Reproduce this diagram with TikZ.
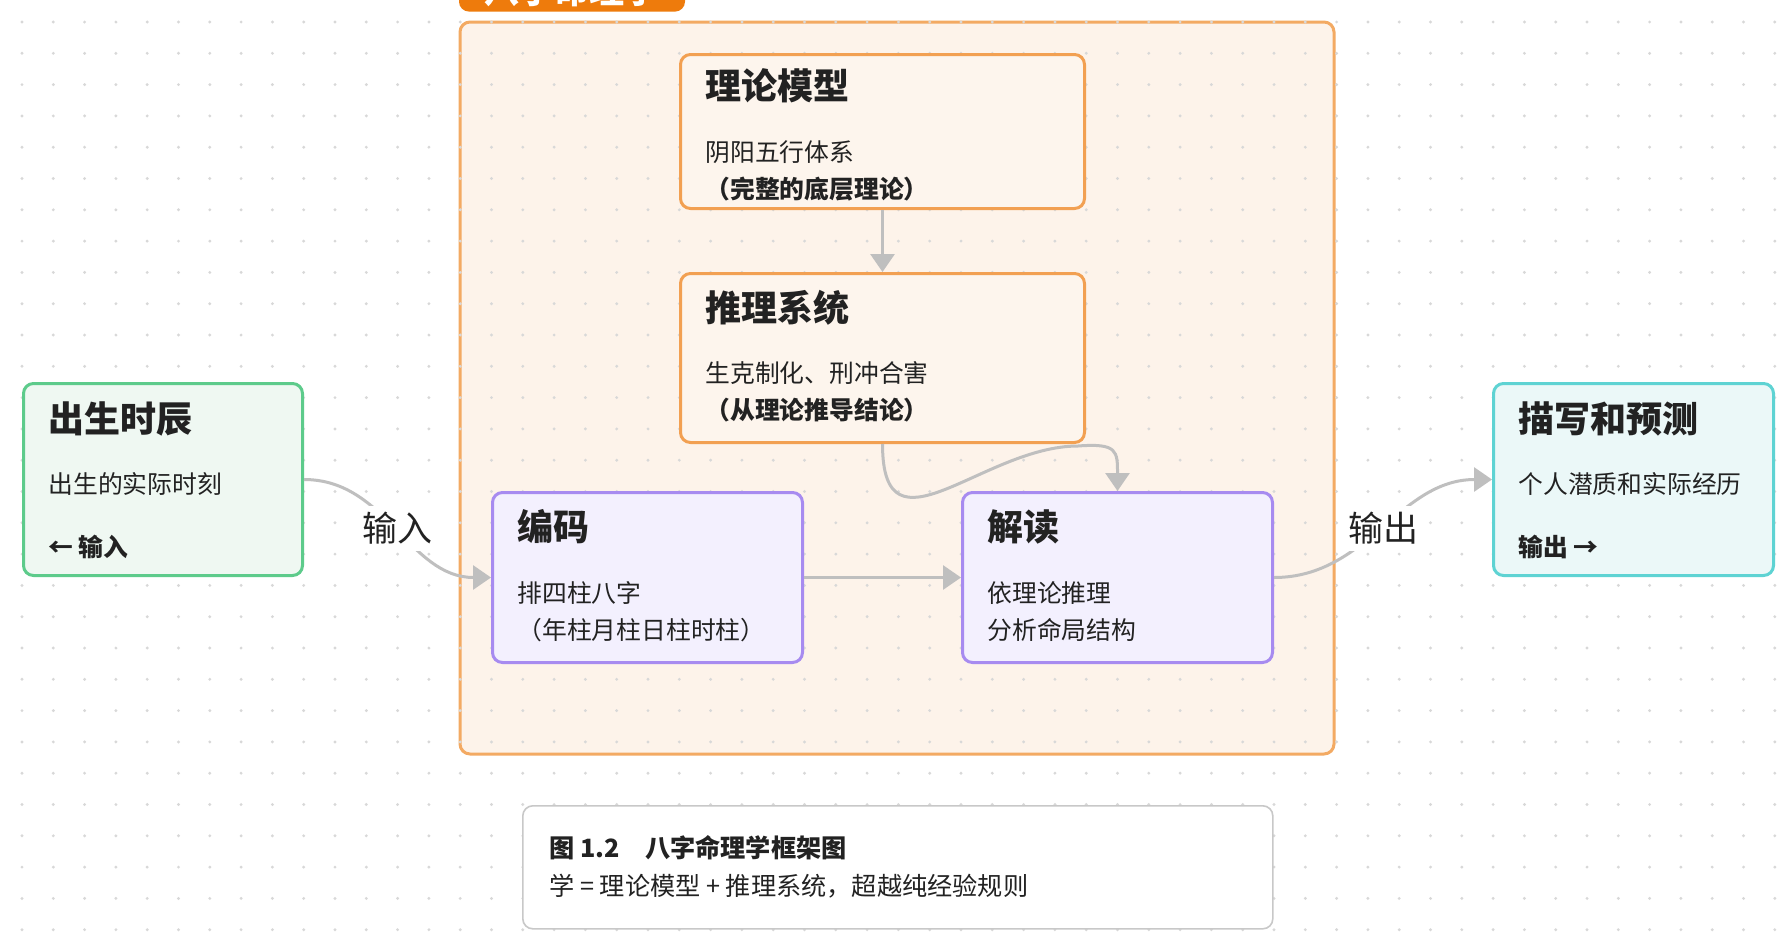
\documentclass[tikz,border=0pt]{standalone}
\usepackage{fontspec}
\setmainfont{Noto Sans CJK SC}
\usetikzlibrary{calc,arrows.meta}
\definecolor{ink}{HTML}{222222}
\definecolor{dotgray}{HTML}{D8D8D8}
\definecolor{linkgray}{HTML}{BFBFBF}
\definecolor{grnline}{HTML}{5DCB8B}
\definecolor{grnfill}{HTML}{EFF8F2}
\definecolor{tealline}{HTML}{5ED3D3}
\definecolor{tealfill}{HTML}{EBF8F8}
\definecolor{orgline}{HTML}{F2A052}
\definecolor{orgfill}{HTML}{FDF5ED}
\definecolor{orgbg}{HTML}{FDF3EA}
\definecolor{orgtag}{HTML}{EE7B0C}
\definecolor{purline}{HTML}{A78BF0}
\definecolor{purfill}{HTML}{F3F0FE}
\definecolor{capline}{HTML}{C8C8C8}
\tikzset{
  box/.style={draw, line width=1.5pt, rounded corners=5pt, anchor=north west, inner sep=0},
  greenbox/.style={box, draw=grnline, fill=grnfill, minimum width=139.5pt, minimum height=96pt},
  tealbox/.style={box, draw=tealline, fill=tealfill, minimum width=140pt, minimum height=96pt},
  orgbox/.style={box, draw=orgline, fill=orgfill, minimum width=202pt},
  purbox/.style={box, draw=purline, fill=purfill, minimum width=155pt, minimum height=85pt},
  ttl/.style={anchor=west, inner sep=0, text=ink, font=\fontsize{18}{20}\selectfont\bfseries},
  txt/.style={anchor=west, inner sep=0, text=ink, font=\fontsize{12.4}{14}\selectfont},
  txtb/.style={txt, font=\fontsize{12.4}{14}\selectfont\bfseries},
  link/.style={draw=linkgray, line width=1.5pt},
  flowlabel/.style={fill=white, inner sep=3pt, text=ink, font=\fontsize{17.5}{20}\selectfont},
}

\begin{document}
\begin{tikzpicture}[x=0.5pt, y=-0.5pt, >={Triangle[length=9pt,width=12pt]}]
\useasboundingbox (0,0) rectangle (1792,948);
\clip (0,0) rectangle (1792,948);
\fill[white] (0,0) rectangle (1792,948);

% frame of the framework
\draw[orgline!90!white, fill=orgbg, line width=1.5pt, rounded corners=5pt] (460,22) rectangle (1334,754);

% dot grid
\foreach \i in {0,...,56} {
  \foreach \j in {0,...,29} {
    \fill[dotgray] (22+31.3*\i, 22+31.3*\j) circle (0.8pt);
  }
}

\node[fill=orgtag, text=white, rounded corners=5pt, anchor=south, minimum width=113pt,
  minimum height=22pt, inner sep=0, font=\fontsize{17.5}{20}\selectfont\bfseries] (tag) at (572,12) {八字命理学};

% boxes
\node[greenbox] (birth) at (22,382) {};
\node[ttl] (birth-t) at ($(birth.north west)+(26,37)$) {出生时辰};
\node[txt] (birth-b) at ($(birth.north west)+(26,102)$) {出生的实际时刻};
\node[txtb] (birth-f) at ($(birth.north west)+(26,165)$) {← 输入};

\node[tealbox] (result) at (1492,382) {};
\node[ttl] (result-t) at ($(result.north west)+(26,37)$) {描写和预测};
\node[txt] (result-b) at ($(result.north west)+(26,102)$) {个人潜质和实际经历};
\node[txtb] (result-f) at ($(result.north west)+(26,165)$) {输出 →};

\node[orgbox, minimum height=77pt] (model) at (679,53) {};
\node[ttl] (model-t) at ($(model.north west)+(26,33)$) {理论模型};
\node[txt] (model-b) at ($(model.north west)+(26,99)$) {阴阳五行体系};
\node[txtb] (model-c) at ($(model.north west)+(26,136)$) {（完整的底层理论）};

\node[orgbox, minimum height=84.5pt] (reason) at (679,272) {};
\node[ttl] (reason-t) at ($(reason.north west)+(26,36)$) {推理系统};
\node[txt] (reason-b) at ($(reason.north west)+(26,101)$) {生克制化、刑冲合害};
\node[txtb] (reason-c) at ($(reason.north west)+(26,138)$) {（从理论推导结论）};

\node[purbox] (encode) at (491,491) {};
\node[ttl] (encode-t) at ($(encode.north west)+(26,36)$) {编码};
\node[txt] (encode-b) at ($(encode.north west)+(26,102)$) {排四柱八字};
\node[txt] (encode-c) at ($(encode.north west)+(26,139)$) {（年柱月柱日柱时柱）};

\node[purbox] (decode) at (961,491) {};
\node[ttl] (decode-t) at ($(decode.north west)+(26,36)$) {解读};
\node[txt] (decode-b) at ($(decode.north west)+(26,102)$) {依理论推理};
\node[txt] (decode-c) at ($(decode.north west)+(26,139)$) {分析命局结构};

\node[box, draw=capline, line width=0.8pt, fill=white, minimum width=375pt, minimum height=61.5pt] (cap) at (522,805) {};
\node[txtb, font=\fontsize{12.6}{14}\selectfont\bfseries] (cap-t) at ($(cap.north west)+(27,43)$) {图 1.2　八字命理学框架图};
\node[txt, font=\fontsize{12.6}{14}\selectfont] (cap-b) at ($(cap.north west)+(27,81)$) {学 = 理论模型 + 推理系统，超越纯经验规则};

% connectors
\draw[link,->] (model.south) -- (reason.north);
\draw[link,->] (reason.south) .. controls ($(reason.south)+(0,119)$) and ($(reason.south east)+(-103,2)$)
  .. ($(reason.south east)+(-8,2)$) .. controls ($(decode.north)+(0,-48)$) and ($(decode.north)+(0,-40)$) .. (decode.north);
\draw[link,->] (encode.east) -- (decode.west);
\draw[link,->] (birth.east) to[out=0, in=180] node[flowlabel] (in-lbl) {输入} (encode.west);
\draw[link,->] (decode.east) to[out=0, in=180] node[flowlabel] (out-lbl) {输出} (result.west);
\end{tikzpicture}
\end{document}
